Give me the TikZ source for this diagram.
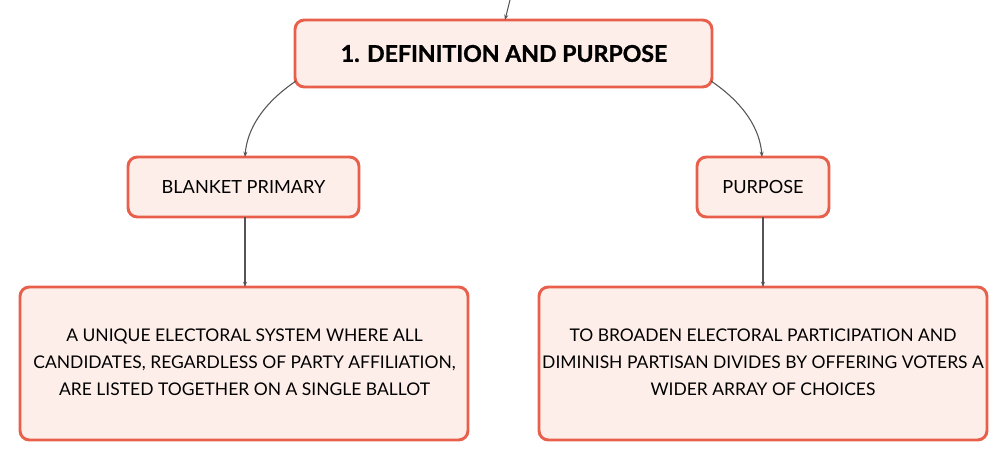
\documentclass[tikz,border=0pt]{standalone}
\usepackage{fontspec}
\setmainfont{Lato}
\newfontfamily\titlefont[FakeBold=1.2]{Lato Bold}
\usetikzlibrary{arrows.meta}
\definecolor{boxdraw}{HTML}{E8604C}
\definecolor{boxfill}{HTML}{FDEEE9}
\definecolor{linkc}{HTML}{555555}
\tikzset{
  box/.style={draw=boxdraw, fill=boxfill, line width=2.2pt, rounded corners=7pt},
  txt/.style={font=\fontsize{13.1}{20.3}\selectfont, align=center, text=black},
  lbl/.style={font=\fontsize{13.6}{20.3}\selectfont, align=center, text=black},
  link/.style={draw=linkc, line width=0.8pt, -{Stealth[length=4pt,width=3pt]}}
}
\begin{document}
\begin{tikzpicture}[x=0.75pt,y=-0.75pt]
\useasboundingbox (0,0) rectangle (1008,461);
% boxes
\draw[box] (295,20) rectangle (712,87);
\node[font=\fontsize{17.3}{20}\titlefont] (t) at (504,53.5) {1. DEFINITION AND PURPOSE};
\coordinate (tl) at (296,81);
\coordinate (tr) at (711,81);
\coordinate (tt) at (505,20);
\coordinate (top) at (510,0);

\draw[box] (128,157) rectangle (359,217);
\node[lbl] (bp) at (243.5,187) {BLANKET PRIMARY};
\coordinate (bpt) at (245,157);
\coordinate (bpb) at (245,217);

\draw[box] (697,157) rectangle (829,217);
\node[lbl] (pu) at (763,187) {PURPOSE};
\coordinate (put) at (762,157);
\coordinate (pub) at (763,217);

\draw[box] (20,287) rectangle (468,440);
\node[txt] (d1) at (244.5,362) {A UNIQUE ELECTORAL SYSTEM WHERE ALL\\CANDIDATES, REGARDLESS OF PARTY AFFILIATION,\\ARE LISTED TOGETHER ON A SINGLE BALLOT};
\coordinate (d1t) at (245,287);

\draw[box] (539,287) rectangle (987,440);
\node[txt] (d2) at (763,362) {TO BROADEN ELECTORAL PARTICIPATION AND\\DIMINISH PARTISAN DIVIDES BY OFFERING VOTERS A\\WIDER ARRAY OF CHOICES};
\coordinate (d2t) at (763,287);

% connectors
\draw[link] (top) -- (tt);
\draw[link] (tl) .. controls (262,104) and (247,130) .. (bpt);
\draw[link] (tr) .. controls (745,104) and (760,130) .. (put);
\draw[link] (bpb) -- (d1t);
\draw[link] (pub) -- (d2t);
\end{tikzpicture}
\end{document}
